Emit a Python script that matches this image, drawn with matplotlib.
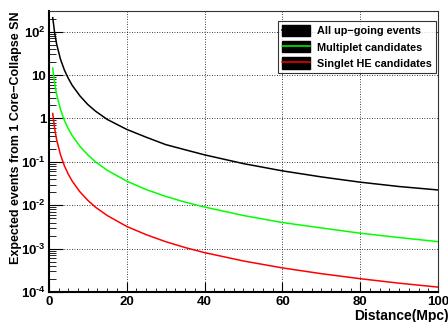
import numpy as np
import matplotlib
matplotlib.use("Agg")
import matplotlib.pyplot as plt
from matplotlib.patches import Patch
from matplotlib.lines import Line2D
from matplotlib.ticker import LogLocator, MultipleLocator, NullFormatter

plt.rcParams['font.family'] = ['Liberation Sans', 'DejaVu Sans']
plt.rcParams['font.weight'] = 'bold'
plt.rcParams['mathtext.fontset'] = 'custom'
plt.rcParams['mathtext.rm'] = 'Liberation Sans:bold'
plt.rcParams['mathtext.bf'] = 'Liberation Sans:bold'
plt.rcParams['mathtext.default'] = 'rm'

# distance in Mpc
dist = [1, 1.5, 2, 3, 4, 5, 6, 8, 10, 12, 15, 20, 25, 30, 35, 40, 50, 60, 70, 80, 90, 100]
all_up = [210, 93, 52, 23, 13, 8.4, 5.8, 3.3, 2.1, 1.47, 0.95, 0.56, 0.37, 0.25, 0.19, 0.145,
          0.091, 0.062, 0.045, 0.034, 0.027, 0.0225]
multiplet = [14.5, 6.4, 3.6, 1.6, 0.9, 0.58, 0.40, 0.227, 0.145, 0.10, 0.064, 0.036, 0.023,
             0.016, 0.0118, 0.0091, 0.0058, 0.0040, 0.0030, 0.00227, 0.0018, 0.00145]
singlet = [1.3, 0.58, 0.325, 0.145, 0.081, 0.052, 0.036, 0.0203, 0.013, 0.009, 0.0058, 0.00325,
           0.0021, 0.00145, 0.00106, 0.00081, 0.00052, 0.00036, 0.000265, 0.000203, 0.00016, 0.00013]

names = ["All up\u2212going events", "Multiplet candidates", "Singlet HE candidates"]
colors = ["black", "#00ff00", "red"]

yticks = [1e-4, 1e-3, 1e-2, 1e-1, 1, 10, 100]
ylabels = [r'$10^{\text{-}4}$', r'$10^{\text{-}3}$', r'$10^{\text{-}2}$', r'$10^{\text{-}1}$',
           '1', '10', r'$10^{2}$']

fig = plt.figure(figsize=(4.48, 3.22), dpi=100)
ax = fig.add_axes([0.109, 0.093, 0.869, 0.873])

for y, c in zip([all_up, multiplet, singlet], colors):
    ax.plot(dist, y, color=c, lw=1.1)

ax.set_yscale('log')
ax.set_xlim(0, 100)
ax.set_ylim(1e-4, 300)
ax.set_xticks([0, 20, 40, 60, 80, 100])
ax.xaxis.set_minor_locator(MultipleLocator(2.5))
ax.set_yticks(yticks)
ax.set_yticklabels(ylabels)
ax.yaxis.set_minor_locator(LogLocator(base=10, subs=np.arange(2, 10)))
ax.yaxis.set_minor_formatter(NullFormatter())
ax.tick_params(which='both', direction='in', labelsize=9.5, top=False, right=False)
ax.tick_params(which='major', length=10)
ax.tick_params(which='minor', length=5)
ax.tick_params(axis='x', which='major', length=7)
ax.tick_params(axis='x', which='minor', length=3)
ax.tick_params(axis='x', pad=3)
ax.tick_params(axis='y', pad=2)
ax.grid(True, which='major', color='black', ls=(0, (1, 2)), lw=0.6)

for s in ['left', 'bottom']:
    ax.spines[s].set_linewidth(1.5)
for s in ['top', 'right']:
    ax.spines[s].set_linewidth(0.8)
    ax.spines[s].set_color('#333333')

ax.set_ylabel("Expected events from 1 Core\u2212Collapse SN", fontsize=9, fontweight='bold',
              ha='right')
ax.yaxis.set_label_coords(-0.069, 1.0)
ax.set_xlabel("Distance(Mpc)", fontsize=10, fontweight='bold', ha='right')
ax.xaxis.set_label_coords(1.026, -0.06)

handles = [(Patch(facecolor='black', edgecolor='black'), Line2D([], [], color=c, lw=1.1))
           for c in colors]
leg = ax.legend(handles, names, loc='upper right', bbox_to_anchor=(0.995, 0.9644),
                fontsize=7.8, frameon=True, fancybox=False, handlelength=2.6, handleheight=1.2,
                borderpad=0.4, labelspacing=0.45, handletextpad=0.6, borderaxespad=0)
leg.get_frame().set_edgecolor('black')
leg.get_frame().set_linewidth(0.8)

fig.savefig("out.png", dpi=100)
